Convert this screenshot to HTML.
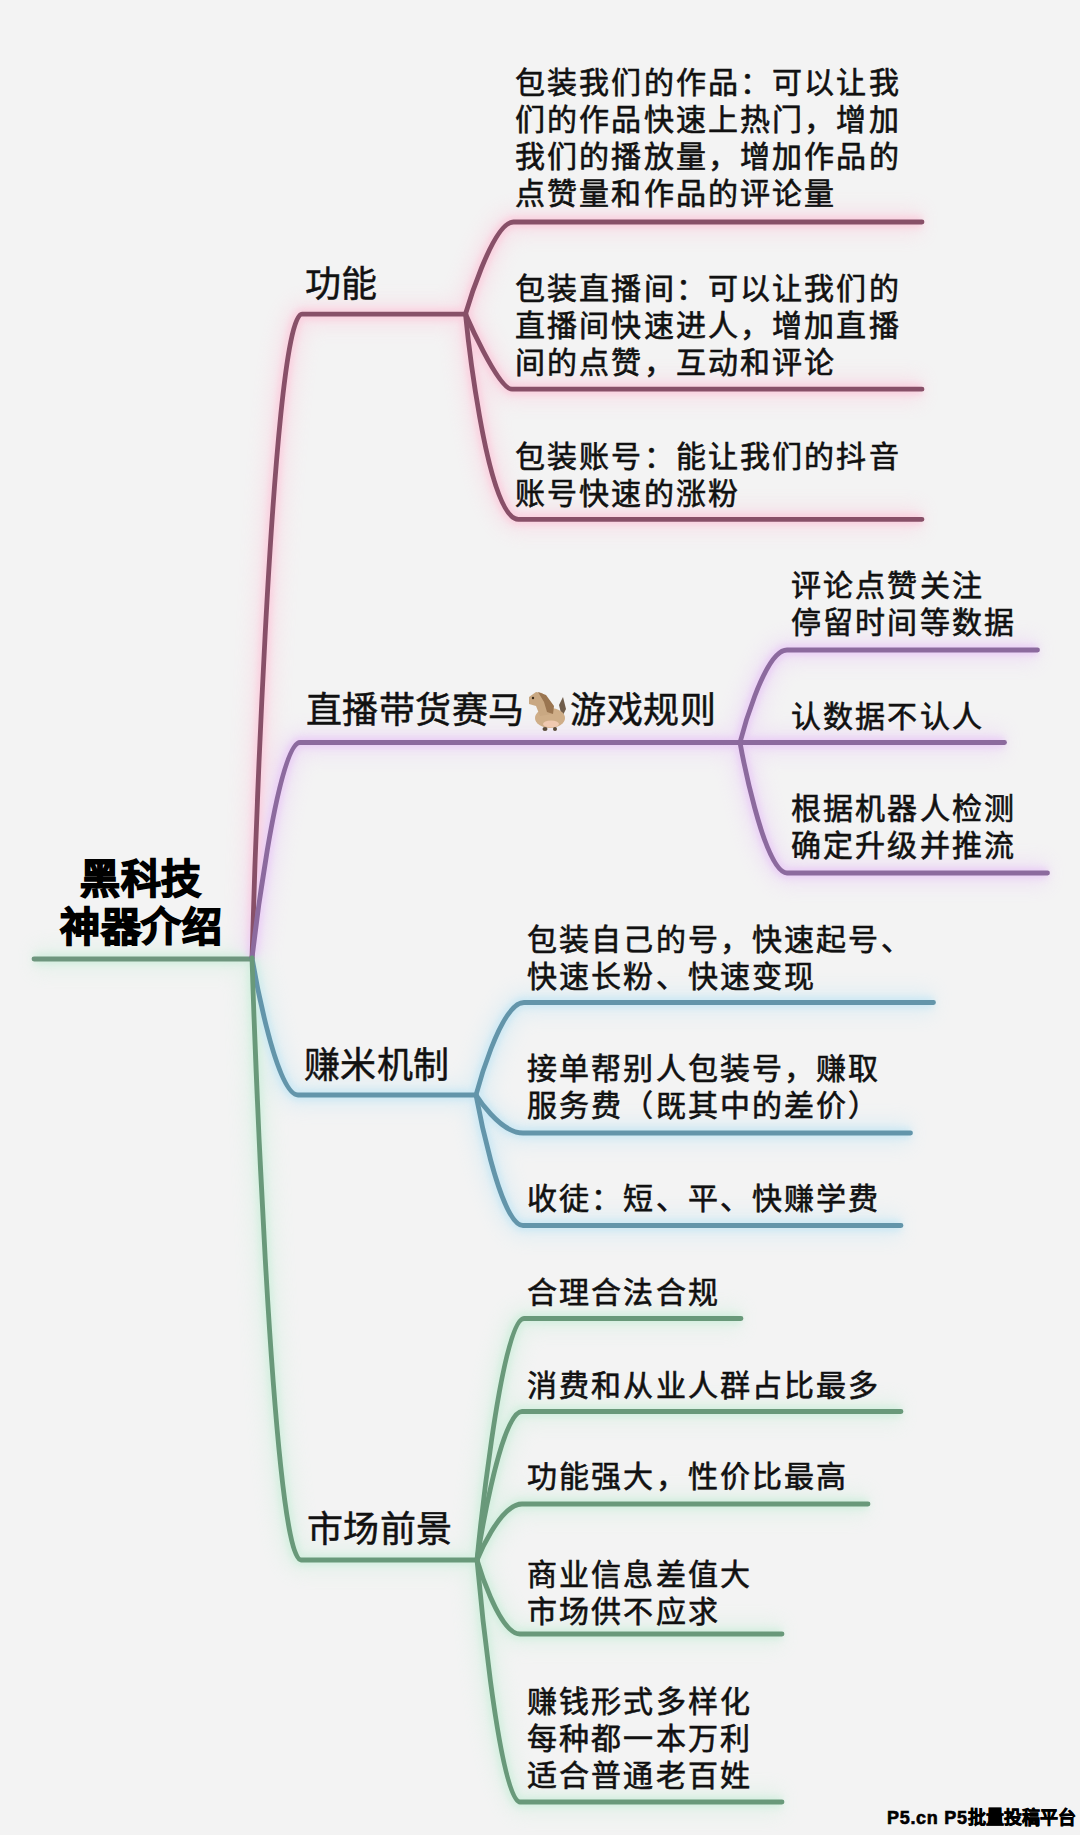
<!DOCTYPE html>
<html lang="zh-CN"><head><meta charset="utf-8"><style>
html,body{margin:0;padding:0}
body{width:1080px;height:1835px;position:relative;overflow:hidden;background:#f3f3f3;font-family:"Liberation Sans",sans-serif;color:#111}
svg.lines{position:absolute;left:0;top:0}
.t{position:absolute;font-size:30px;letter-spacing:2.15px;line-height:37px;white-space:nowrap;-webkit-text-stroke:0.6px #111}
.root{position:absolute;left:0;width:282px;text-align:center;font-size:40px;letter-spacing:0.5px;line-height:48px;font-weight:700;-webkit-text-stroke:1.5px #000;color:#000}
.ti{font-size:36px;letter-spacing:0.4px;-webkit-text-stroke:0.5px #111}
.h{display:inline-block;width:46px;height:37px;vertical-align:top;position:relative}
.hs{position:absolute;left:512px;top:682px}
.wm{position:absolute;left:887px;top:1806px;font-size:18px;line-height:24px;font-weight:700;color:#000;-webkit-text-stroke:0.6px #000;white-space:nowrap}
</style></head><body>
<svg class="lines" width="1080" height="1835" viewBox="0 0 1080 1835">
<defs><filter id="gl" x="-5%" y="-5%" width="110%" height="110%"><feGaussianBlur stdDeviation="3"/></filter><filter id="gw" x="-10%" y="-10%" width="120%" height="120%"><feGaussianBlur stdDeviation="9"/></filter></defs>
<g fill="none" stroke-width="26" opacity="0.35" filter="url(#gw)"><path d="M34 959H252" stroke="#cdeedb"/><path d="M252 958C252 958 270.2 314.2 302 314.2H466" stroke="#fcc8da"/><path d="M252 958C252 958 276.7 742.5 300 742.5H740" stroke="#e8c8f6"/><path d="M252 958C252 958 275.0 1095 298 1095H476" stroke="#c4e6f4"/><path d="M252 958C252 958 271.0 1560 301 1560H477" stroke="#cdeedb"/><path d="M465.5 314C465.5 314 492.1 222 513.5 222H922" stroke="#fcc8da"/><path d="M465.5 314C465.5 314 497.9 389.2 512 389.2H922" stroke="#fcc8da"/><path d="M465.5 314C465.5 314 485.5 519.3 518.4 519.3H922" stroke="#fcc8da"/><path d="M740 742.5C740 742.5 763.5 650 787 650H1037.5" stroke="#e8c8f6"/><path d="M740 742.5H1004.5" stroke="#e8c8f6"/><path d="M740 742.5C740 742.5 763.5 873 787 873H1047.5" stroke="#e8c8f6"/><path d="M476 1095C476 1095 500.0 1002.5 524 1002.5H933.5" stroke="#c4e6f4"/><path d="M476 1095C476 1095 499.5 1133 523 1133H910.5" stroke="#c4e6f4"/><path d="M476 1095C476 1095 499.5 1225.5 523 1225.5H901" stroke="#c4e6f4"/><path d="M477 1560C477 1560 500.5 1318.5 524 1318.5H741" stroke="#cdeedb"/><path d="M477 1560C477 1560 499.5 1411.5 522 1411.5H901" stroke="#cdeedb"/><path d="M477 1560C477 1560 499.5 1504 522 1504H868" stroke="#cdeedb"/><path d="M477 1560C477 1560 498.5 1634 520 1634H782" stroke="#cdeedb"/><path d="M477 1560C477 1560 498.5 1802 520 1802H782" stroke="#cdeedb"/></g>
<g fill="none" stroke-width="11" opacity="0.75" filter="url(#gl)"><path d="M34 959H252" stroke="#cdeedb"/><path d="M252 958C252 958 270.2 314.2 302 314.2H466" stroke="#fcc8da"/><path d="M252 958C252 958 276.7 742.5 300 742.5H740" stroke="#e8c8f6"/><path d="M252 958C252 958 275.0 1095 298 1095H476" stroke="#c4e6f4"/><path d="M252 958C252 958 271.0 1560 301 1560H477" stroke="#cdeedb"/><path d="M465.5 314C465.5 314 492.1 222 513.5 222H922" stroke="#fcc8da"/><path d="M465.5 314C465.5 314 497.9 389.2 512 389.2H922" stroke="#fcc8da"/><path d="M465.5 314C465.5 314 485.5 519.3 518.4 519.3H922" stroke="#fcc8da"/><path d="M740 742.5C740 742.5 763.5 650 787 650H1037.5" stroke="#e8c8f6"/><path d="M740 742.5H1004.5" stroke="#e8c8f6"/><path d="M740 742.5C740 742.5 763.5 873 787 873H1047.5" stroke="#e8c8f6"/><path d="M476 1095C476 1095 500.0 1002.5 524 1002.5H933.5" stroke="#c4e6f4"/><path d="M476 1095C476 1095 499.5 1133 523 1133H910.5" stroke="#c4e6f4"/><path d="M476 1095C476 1095 499.5 1225.5 523 1225.5H901" stroke="#c4e6f4"/><path d="M477 1560C477 1560 500.5 1318.5 524 1318.5H741" stroke="#cdeedb"/><path d="M477 1560C477 1560 499.5 1411.5 522 1411.5H901" stroke="#cdeedb"/><path d="M477 1560C477 1560 499.5 1504 522 1504H868" stroke="#cdeedb"/><path d="M477 1560C477 1560 498.5 1634 520 1634H782" stroke="#cdeedb"/><path d="M477 1560C477 1560 498.5 1802 520 1802H782" stroke="#cdeedb"/></g>
<g fill="none" stroke-width="4.8" stroke-linecap="round"><path d="M34 959H252" stroke="#6e967e"/><path d="M252 958C252 958 270.2 314.2 302 314.2H466" stroke="#885068"/><path d="M252 958C252 958 276.7 742.5 300 742.5H740" stroke="#8c6a9e"/><path d="M252 958C252 958 275.0 1095 298 1095H476" stroke="#6395aa"/><path d="M252 958C252 958 271.0 1560 301 1560H477" stroke="#69997a"/><path d="M465.5 314C465.5 314 492.1 222 513.5 222H922" stroke="#885068"/><path d="M465.5 314C465.5 314 497.9 389.2 512 389.2H922" stroke="#885068"/><path d="M465.5 314C465.5 314 485.5 519.3 518.4 519.3H922" stroke="#885068"/><path d="M740 742.5C740 742.5 763.5 650 787 650H1037.5" stroke="#8c6a9e"/><path d="M740 742.5H1004.5" stroke="#8c6a9e"/><path d="M740 742.5C740 742.5 763.5 873 787 873H1047.5" stroke="#8c6a9e"/><path d="M476 1095C476 1095 500.0 1002.5 524 1002.5H933.5" stroke="#6395aa"/><path d="M476 1095C476 1095 499.5 1133 523 1133H910.5" stroke="#6395aa"/><path d="M476 1095C476 1095 499.5 1225.5 523 1225.5H901" stroke="#6395aa"/><path d="M477 1560C477 1560 500.5 1318.5 524 1318.5H741" stroke="#69997a"/><path d="M477 1560C477 1560 499.5 1411.5 522 1411.5H901" stroke="#69997a"/><path d="M477 1560C477 1560 499.5 1504 522 1504H868" stroke="#69997a"/><path d="M477 1560C477 1560 498.5 1634 520 1634H782" stroke="#69997a"/><path d="M477 1560C477 1560 498.5 1802 520 1802H782" stroke="#69997a"/></g>
</svg>
<div class="t " style="left:515px;top:64px">包装我们的作品：可以让我<br>们的作品快速上热门，增加<br>我们的播放量，增加作品的<br>点赞量和作品的评论量</div><div class="t " style="left:515px;top:270px">包装直播间：可以让我们的<br>直播间快速进人，增加直播<br>间的点赞，互动和评论</div><div class="t " style="left:515px;top:438px">包装账号：能让我们的抖音<br>账号快速的涨粉</div><div class="t ti" style="left:305px;top:266px">功能</div><div class="t ti" style="left:306px;top:692px">直播带货赛马<span class=h></span>游戏规则</div><div class="t " style="left:791px;top:567px">评论点赞关注<br>停留时间等数据</div><div class="t " style="left:791px;top:698px">认数据不认人</div><div class="t " style="left:791px;top:790px">根据机器人检测<br>确定升级并推流</div><div class="t ti" style="left:304px;top:1047px">赚米机制</div><div class="t " style="left:527px;top:921px">包装自己的号，快速起号、<br>快速长粉、快速变现</div><div class="t " style="left:527px;top:1050px">接单帮别人包装号，赚取<br>服务费（既其中的差价）</div><div class="t " style="left:527px;top:1180px">收徒：短、平、快赚学费</div><div class="t ti" style="left:307px;top:1511px">市场前景</div><div class="t " style="left:527px;top:1274px">合理合法合规</div><div class="t " style="left:527px;top:1367px">消费和从业人群占比最多</div><div class="t " style="left:527px;top:1458px">功能强大，性价比最高</div><div class="t " style="left:527px;top:1556px">商业信息差值大<br>市场供不应求</div><div class="t " style="left:527px;top:1683px">赚钱形式多样化<br>每种都一本万利<br>适合普通老百姓</div>
<div class="root" style="top:855px">黑科技<br>神器介绍</div>
<svg class="hs" width="60" height="60" viewBox="0 0 60 60"><path d="M47 23 L51 15 L54 27 L50 35 Z" fill="#6f5c4a"/><ellipse cx="38" cy="36" rx="15" ry="10" fill="#cfae88"/><path d="M17 15 L24 10 L30 11 L40 22 L40 32 L28 34 L24 24 L17 22 Z" fill="#c9a882"/><path d="M26 10 L34 13 L42 24 L41 32 L35 30 L32 20 Z" fill="#9a7550"/><ellipse cx="39" cy="42" rx="8" ry="3.5" fill="#f0c9b0"/><ellipse cx="33" cy="47" rx="2.5" ry="2" fill="#5a4a3a"/><ellipse cx="43" cy="47" rx="2" ry="2" fill="#5a4a3a"/><circle cx="21" cy="16" r="1.2" fill="#3a2a1a"/></svg>
<div class="wm"><span style="letter-spacing:0.7px">P5.cn P5</span>批量投稿平台</div>
</body></html>
